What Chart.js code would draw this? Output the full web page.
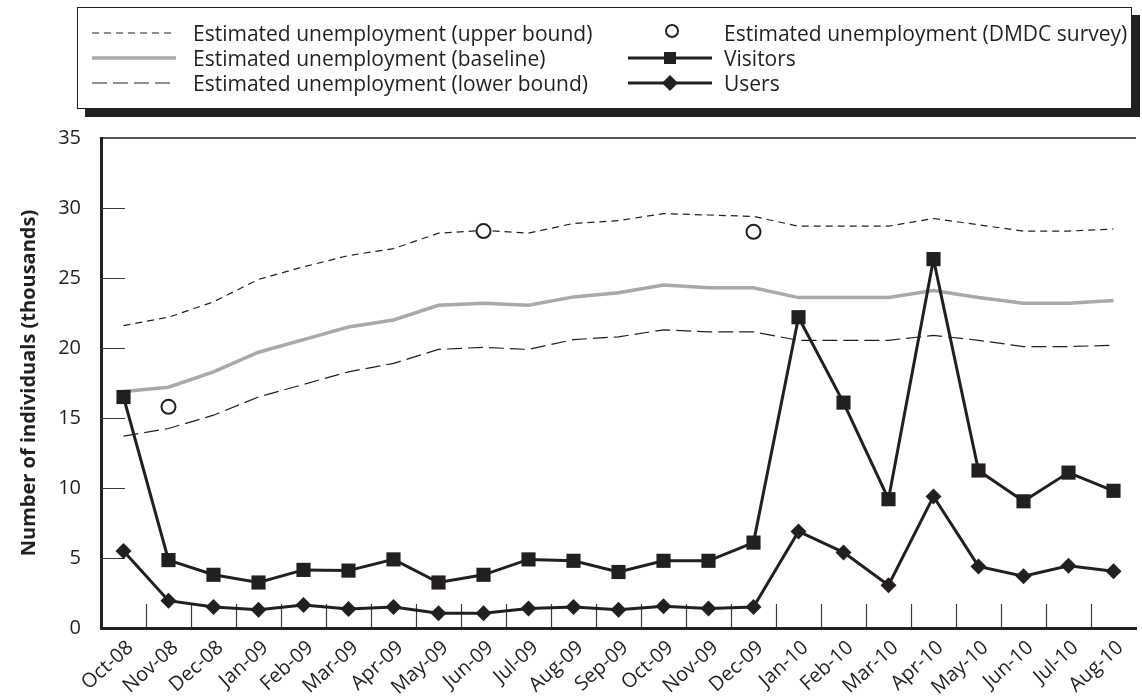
<!DOCTYPE html>
<html>
<head>
<meta charset="utf-8">
<script src="https://cdn.jsdelivr.net/npm/chart.js@4.4.1/dist/chart.umd.min.js"></script>
<style>
  html, body { margin: 0; padding: 0; background: #fff; overflow: hidden; width: 1142px; height: 696px; }
  #wrap { position: absolute; left: 0; top: 0; width: 1146px; height: 696px; }
  #legend {
    position: absolute; left: 77px; top: 7px; width: 1053px; height: 100px;
    border: 1.5px solid #231f20; box-shadow: 8px 8px 0 #231f20; background: #fff;
    font-family: "Open Sans", sans-serif; font-size: 21px; color: #231f20;
  }
  .item { position: absolute; height: 24px; display: flex; align-items: center; white-space: nowrap; }
</style>
</head>
<body>
<div id="wrap"><canvas id="chart1"></canvas></div>
<div id="legend"></div>
<script>
// Data (thousands of individuals)
const months = ['Oct-08', 'Nov-08', 'Dec-08', 'Jan-09', 'Feb-09', 'Mar-09', 'Apr-09', 'May-09',
  'Jun-09', 'Jul-09', 'Aug-09', 'Sep-09', 'Oct-09', 'Nov-09', 'Dec-09', 'Jan-10', 'Feb-10',
  'Mar-10', 'Apr-10', 'May-10', 'Jun-10', 'Jul-10', 'Aug-10'];
const upperBound = [21.6, 22.2, 23.3, 24.9, 25.8, 26.6, 27.1, 28.2, 28.4, 28.2, 28.9, 29.1,
  29.6, 29.5, 29.4, 28.7, 28.7, 28.7, 29.25, 28.8, 28.35, 28.35, 28.5];
const baseline = [16.9, 17.2, 18.3, 19.7, 20.6, 21.5, 22.0, 23.05, 23.2, 23.05, 23.65, 23.95,
  24.5, 24.3, 24.3, 23.6, 23.6, 23.6, 24.1, 23.6, 23.2, 23.2, 23.4];
const lowerBound = [13.7, 14.25, 15.2, 16.5, 17.4, 18.3, 18.9, 19.9, 20.05, 19.9, 20.6, 20.8,
  21.3, 21.15, 21.15, 20.55, 20.55, 20.55, 20.9, 20.55, 20.1, 20.1, 20.2];
const dmdcSurvey = [null, 15.8, null, null, null, null, null, null, 28.35, null, null, null,
  null, null, 28.3, null, null, null, null, null, null, null, null];
const visitors = [16.5, 4.85, 3.8, 3.25, 4.15, 4.1, 4.9, 3.25, 3.8, 4.9, 4.8, 4.0,
  4.8, 4.8, 6.1, 22.2, 16.1, 9.2, 26.35, 11.25, 9.05, 11.1, 9.8];
const users = [5.5, 1.95, 1.5, 1.3, 1.65, 1.35, 1.5, 1.05, 1.05, 1.4, 1.5, 1.3,
  1.55, 1.4, 1.5, 6.9, 5.4, 3.05, 9.4, 4.4, 3.7, 4.45, 4.05];
const yTicks = [0, 5, 10, 15, 20, 25, 30, 35];

const INK = '#231f20';
const GREY = '#a7a9ac';
const FONT = '"Open Sans", sans-serif';

// frame line on top and the inward tick marks
const innerTicks = {
  id: 'innerTicks',
  beforeDatasetsDraw(chart) {
    const { ctx, chartArea: a, scales: { x, y } } = chart;
    ctx.save();
    ctx.strokeStyle = INK;
    ctx.lineWidth = 1.5;
    ctx.beginPath();
    ctx.moveTo(a.left, a.top);
    ctx.lineTo(a.right, a.top);
    ctx.stroke();
    ctx.lineWidth = 1.2;
    ctx.strokeStyle = '#3a3a3a';
    ctx.beginPath();
    yTicks.slice(1, -1).forEach(v => {
      const py = Math.round(y.getPixelForValue(v)) + 0.5;
      ctx.moveTo(a.left, py);
      ctx.lineTo(a.left + 24, py);
    });
    for (let i = 1; i < months.length; i++) {
      const px = Math.round((x.getPixelForValue(i - 1) + x.getPixelForValue(i)) / 2) + 0.5;
      ctx.moveTo(px, a.bottom);
      ctx.lineTo(px, a.bottom - 24);
    }
    ctx.stroke();
    ctx.restore();
  }
};

const data = {
  labels: months,
  datasets: [
    { label: 'Estimated unemployment (upper bound)', data: upperBound, borderColor: INK,
      borderWidth: 1.2, borderDash: [7, 5], pointRadius: 0, order: 6 },
    { label: 'Estimated unemployment (baseline)', data: baseline, borderColor: GREY,
      borderWidth: 3.5, pointRadius: 0, order: 5 },
    { label: 'Estimated unemployment (lower bound)', data: lowerBound, borderColor: INK,
      borderWidth: 1.2, borderDash: [15, 6], pointRadius: 0, order: 4 },
    { label: 'Estimated unemployment (DMDC survey)', data: dmdcSurvey, showLine: false,
      pointStyle: 'circle', pointRadius: 7, pointBorderWidth: 2, borderColor: INK,
      backgroundColor: '#fff', order: 1 },
    { label: 'Visitors', data: visitors, borderColor: INK, backgroundColor: INK, borderWidth: 3,
      pointStyle: 'rect', pointRadius: 10, pointBorderWidth: 0, order: 3 },
    { label: 'Users', data: users, borderColor: INK, backgroundColor: INK, borderWidth: 3,
      pointStyle: 'rectRot', pointRadius: 8, pointBorderWidth: 0, order: 2 }
  ]
};

const options = {
  responsive: true,
  maintainAspectRatio: false,
  animation: false,
  layout: { padding: { top: 138, left: 0, right: 0, bottom: 0 } },
  elements: { line: { tension: 0 } },
  plugins: { legend: { display: false }, tooltip: { enabled: false } },
  scales: {
    x: {
      type: 'category',
      offset: true,
      grid: { display: false },
      border: { display: true, width: 3, color: INK },
      ticks: { color: INK, font: { family: FONT, size: 20 }, minRotation: 42, maxRotation: 42,
        autoSkip: false, padding: 0, labelOffset: 7 },
      afterFit(scale) { scale.height = 68; }
    },
    y: {
      min: 0, max: 35,
      grid: { display: false },
      border: { display: true, width: 3, color: INK },
      ticks: { stepSize: 5, color: INK, font: { family: FONT, size: 20 }, padding: 12 },
      title: { display: true, text: 'Number of individuals (thousands)', color: INK,
        font: { family: FONT, size: 20, weight: 'bold' }, padding: { top: 17, bottom: 0 } },
      afterFit(scale) { scale.width = 101; }
    }
  }
};

const ctx = document.getElementById('chart1').getContext('2d');
const myChart = new Chart(ctx, { type: 'line', data: data, options: options, plugins: [innerTicks] });

// HTML legend in two columns, built from the datasets
function sample(ds) {
  const w = 84, h = 22, c = h / 2;
  let s = '';
  if (ds.pointStyle === 'circle') {
    s = `<circle cx="${w / 2 + 2}" cy="${c - 2}" r="6" fill="#fff" stroke="${INK}" stroke-width="2"/>`;
  } else {
    const dash = ds.borderDash ? `stroke-dasharray="${ds.borderDash.join(' ')}"` : '';
    s = `<line x1="0" y1="${c}" x2="${w}" y2="${c}" stroke="${ds.borderColor}" stroke-width="${ds.borderWidth}" ${dash}/>`;
    if (ds.pointStyle === 'rect') s += `<rect x="${w / 2 - 6}" y="${c - 6}" width="12" height="12" fill="${INK}"/>`;
    if (ds.pointStyle === 'rectRot') s += `<polygon points="${w / 2},${c - 8} ${w / 2 + 8},${c} ${w / 2},${c + 8} ${w / 2 - 8},${c}" fill="${INK}"/>`;
  }
  return `<svg width="${w}" height="${h}" style="margin-right:${ds.pointStyle ? 12 : 17}px">${s}</svg>`;
}
const slots = [[0, 0], [0, 1], [0, 2], [1, 0], [1, 1], [1, 2]];
const legendEl = document.getElementById('legend');
myChart.data.datasets.forEach((ds, i) => {
  const [col, row] = slots[i];
  const el = document.createElement('div');
  el.className = 'item';
  el.style.left = (col === 0 ? 14 : 550) + 'px';
  el.style.top = (13 + row * 25) + 'px';
  el.innerHTML = sample(ds) + '<span>' + ds.label + '</span>';
  legendEl.appendChild(el);
});
</script>
</body>
</html>
